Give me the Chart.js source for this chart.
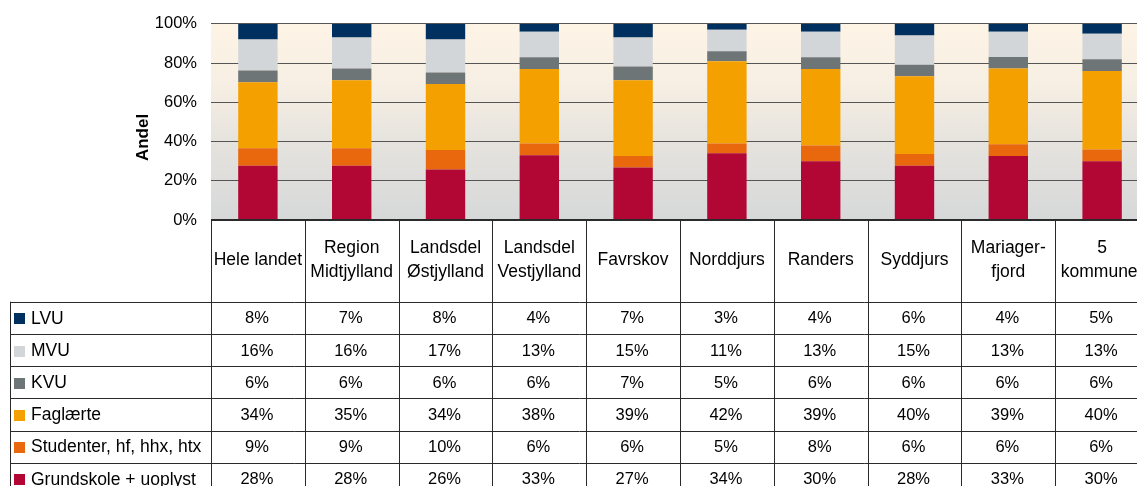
<!DOCTYPE html>
<html><head><meta charset="utf-8">
<script src="https://cdn.jsdelivr.net/npm/chart.js@4/dist/chart.umd.min.js"></script>
<style>html,body{margin:0;padding:0;background:#fff;overflow:hidden;width:1137px;height:486px}canvas{display:block}</style>
</head><body>
<canvas id="c" width="1149" height="486"></canvas>
<script>
const categories = [['Hele landet'], ['Region','Midtjylland'], ['Landsdel','Østjylland'], ['Landsdel','Vestjylland'], ['Favrskov'], ['Norddjurs'], ['Randers'], ['Syddjurs'], ['Mariager-','fjord'], ['5','kommuner']];
const seriesNames = ['LVU','MVU','KVU','Faglærte','Studenter, hf, hhx, htx','Grundskole + uoplyst'];
const lvu        = [8, 7, 8, 4, 7, 3, 4, 6, 4, 5];
const mvu        = [16,16,17,13,15,11,13,15,13,13];
const kvu        = [6, 6, 6, 6, 7, 5, 6, 6, 6, 6];
const faglaerte  = [34,35,34,38,39,42,39,40,39,40];
const studenter  = [9, 9, 10,6, 6, 5, 8, 6, 6, 6];
const grundskole = [28,28,26,33,27,34,30,28,33,30];
const yTicks = [0,20,40,60,80,100];
const seriesColors = ['#00305f','#d3d6d8','#6e7577','#f4a000','#e9680d','#b20734'];

const seriesValues = [lvu, mvu, kvu, faglaerte, studenter, grundskole];
const totals = categories.map((_, i) => seriesValues.reduce((s, arr) => s + arr[i], 0));
const FONT = '"Liberation Sans", Arial, sans-serif';

// datasets bottom-up: Grundskole first
const datasets = seriesValues.map((vals, k) => ({
  label: seriesNames[k],
  data: vals.map((v, i) => v * 100 / totals[i]),
  backgroundColor: seriesColors[k],
  borderWidth: 0,
  categoryPercentage: 1,
  barPercentage: 0.42
})).reverse();

const tablePlugin = {
  id: 'tablePlugin',
  beforeDraw(chart) {
    const {ctx, chartArea: a} = chart;
    const g = ctx.createLinearGradient(0, a.top, 0, a.bottom);
    g.addColorStop(0, '#fdf4e6');
    g.addColorStop(0.3, '#f7efe3');
    g.addColorStop(0.6, '#e6e3de');
    g.addColorStop(1, '#d6d8d9');
    ctx.save();
    ctx.fillStyle = g;
    ctx.fillRect(a.left, a.top, a.right - a.left, a.bottom - a.top);
    ctx.restore();
  },
  afterDraw(chart) {
    const {ctx, chartArea: a} = chart;
    const xs = chart.scales.x;
    const n = categories.length;
    const colW = (a.right - a.left) / n;
    const top = a.bottom;
    const headerBottom = 301.7;
    const rowH = 32.2;
    const legendLeft = 10;
    const bottom = chart.height;
    const px = v => Math.round(v) + 0.5;
    ctx.save();
    // y title
    ctx.fillStyle = '#000';
    ctx.font = 'bold 17px ' + FONT;
    ctx.textAlign = 'center';
    ctx.textBaseline = 'middle';
    ctx.save();
    ctx.translate(143.5, 137.5);
    ctx.rotate(-Math.PI / 2);
    ctx.fillText('Andel', 0, 0);
    ctx.restore();

    // lines
    ctx.strokeStyle = '#2a2a2a';
    ctx.lineWidth = 1;
    ctx.beginPath();
    for (let r = 0; r <= 6; r++) {
      const y = px(headerBottom + r * rowH);
      ctx.moveTo(legendLeft, y); ctx.lineTo(a.right, y);
    }
    for (let i = 0; i <= n; i++) {
      const x = px(a.left + i * colW);
      ctx.moveTo(x, top); ctx.lineTo(x, bottom);
    }
    ctx.moveTo(px(legendLeft), headerBottom); ctx.lineTo(px(legendLeft), bottom);
    ctx.stroke();
    ctx.beginPath();
    ctx.lineWidth = 2;
    ctx.moveTo(a.left, top); ctx.lineTo(a.right, top);
    ctx.stroke();

    // header labels
    ctx.font = '17.5px ' + FONT;
    ctx.fillStyle = '#000';
    ctx.textAlign = 'center';
    ctx.textBaseline = 'middle';
    const lineH = 23.5;
    chart.data.labels.forEach((lab, i) => {
      const cx = xs.getPixelForValue(i);
      const lines = Array.isArray(lab) ? lab : [lab];
      const y0 = 260 - (lines.length - 1) * lineH / 2;
      lines.forEach((t, j) => ctx.fillText(t, cx, y0 + j * lineH));
    });

    // rows
    seriesNames.forEach((name, r) => {
      const cy = headerBottom + r * rowH + rowH / 2 + 1;
      ctx.fillStyle = seriesColors[r];
      ctx.fillRect(14, Math.round(cy - 5.5), 11, 11);
      ctx.fillStyle = '#000';
      ctx.textAlign = 'left';
      ctx.font = '17.5px ' + FONT;
      ctx.fillText(name, 31, cy);
      ctx.textAlign = 'center';
      ctx.font = '16.5px ' + FONT;
      seriesValues[r].forEach((v, i) => {
        ctx.fillText(v + '%', xs.getPixelForValue(i) - 1, cy);
      });
    });
    ctx.restore();
  }
};

new Chart(document.getElementById('c'), {
  type: 'bar',
  data: { labels: categories, datasets },
  options: {
    responsive: false,
    animation: false,
    devicePixelRatio: 1,
    layout: { padding: { top: 22, bottom: 266, left: 0, right: 0 } },
    plugins: { legend: { display: false }, tooltip: { enabled: false }, title: { display: false } },
    scales: {
      x: { stacked: true, display: false, offset: true },
      y: {
        stacked: true, min: 0, max: 100,
        afterBuildTicks: s => { s.ticks = yTicks.map(v => ({ value: v })); },
        afterFit: s => { s.width = 211; },
        ticks: { callback: v => v + '%', font: { family: FONT, size: 16.5 }, color: '#000', padding: 14 },
        grid: { color: '#555555', lineWidth: 1, drawTicks: false },
        border: { display: false }
      }
    }
  },
  plugins: [tablePlugin]
});
</script>
</body></html>
